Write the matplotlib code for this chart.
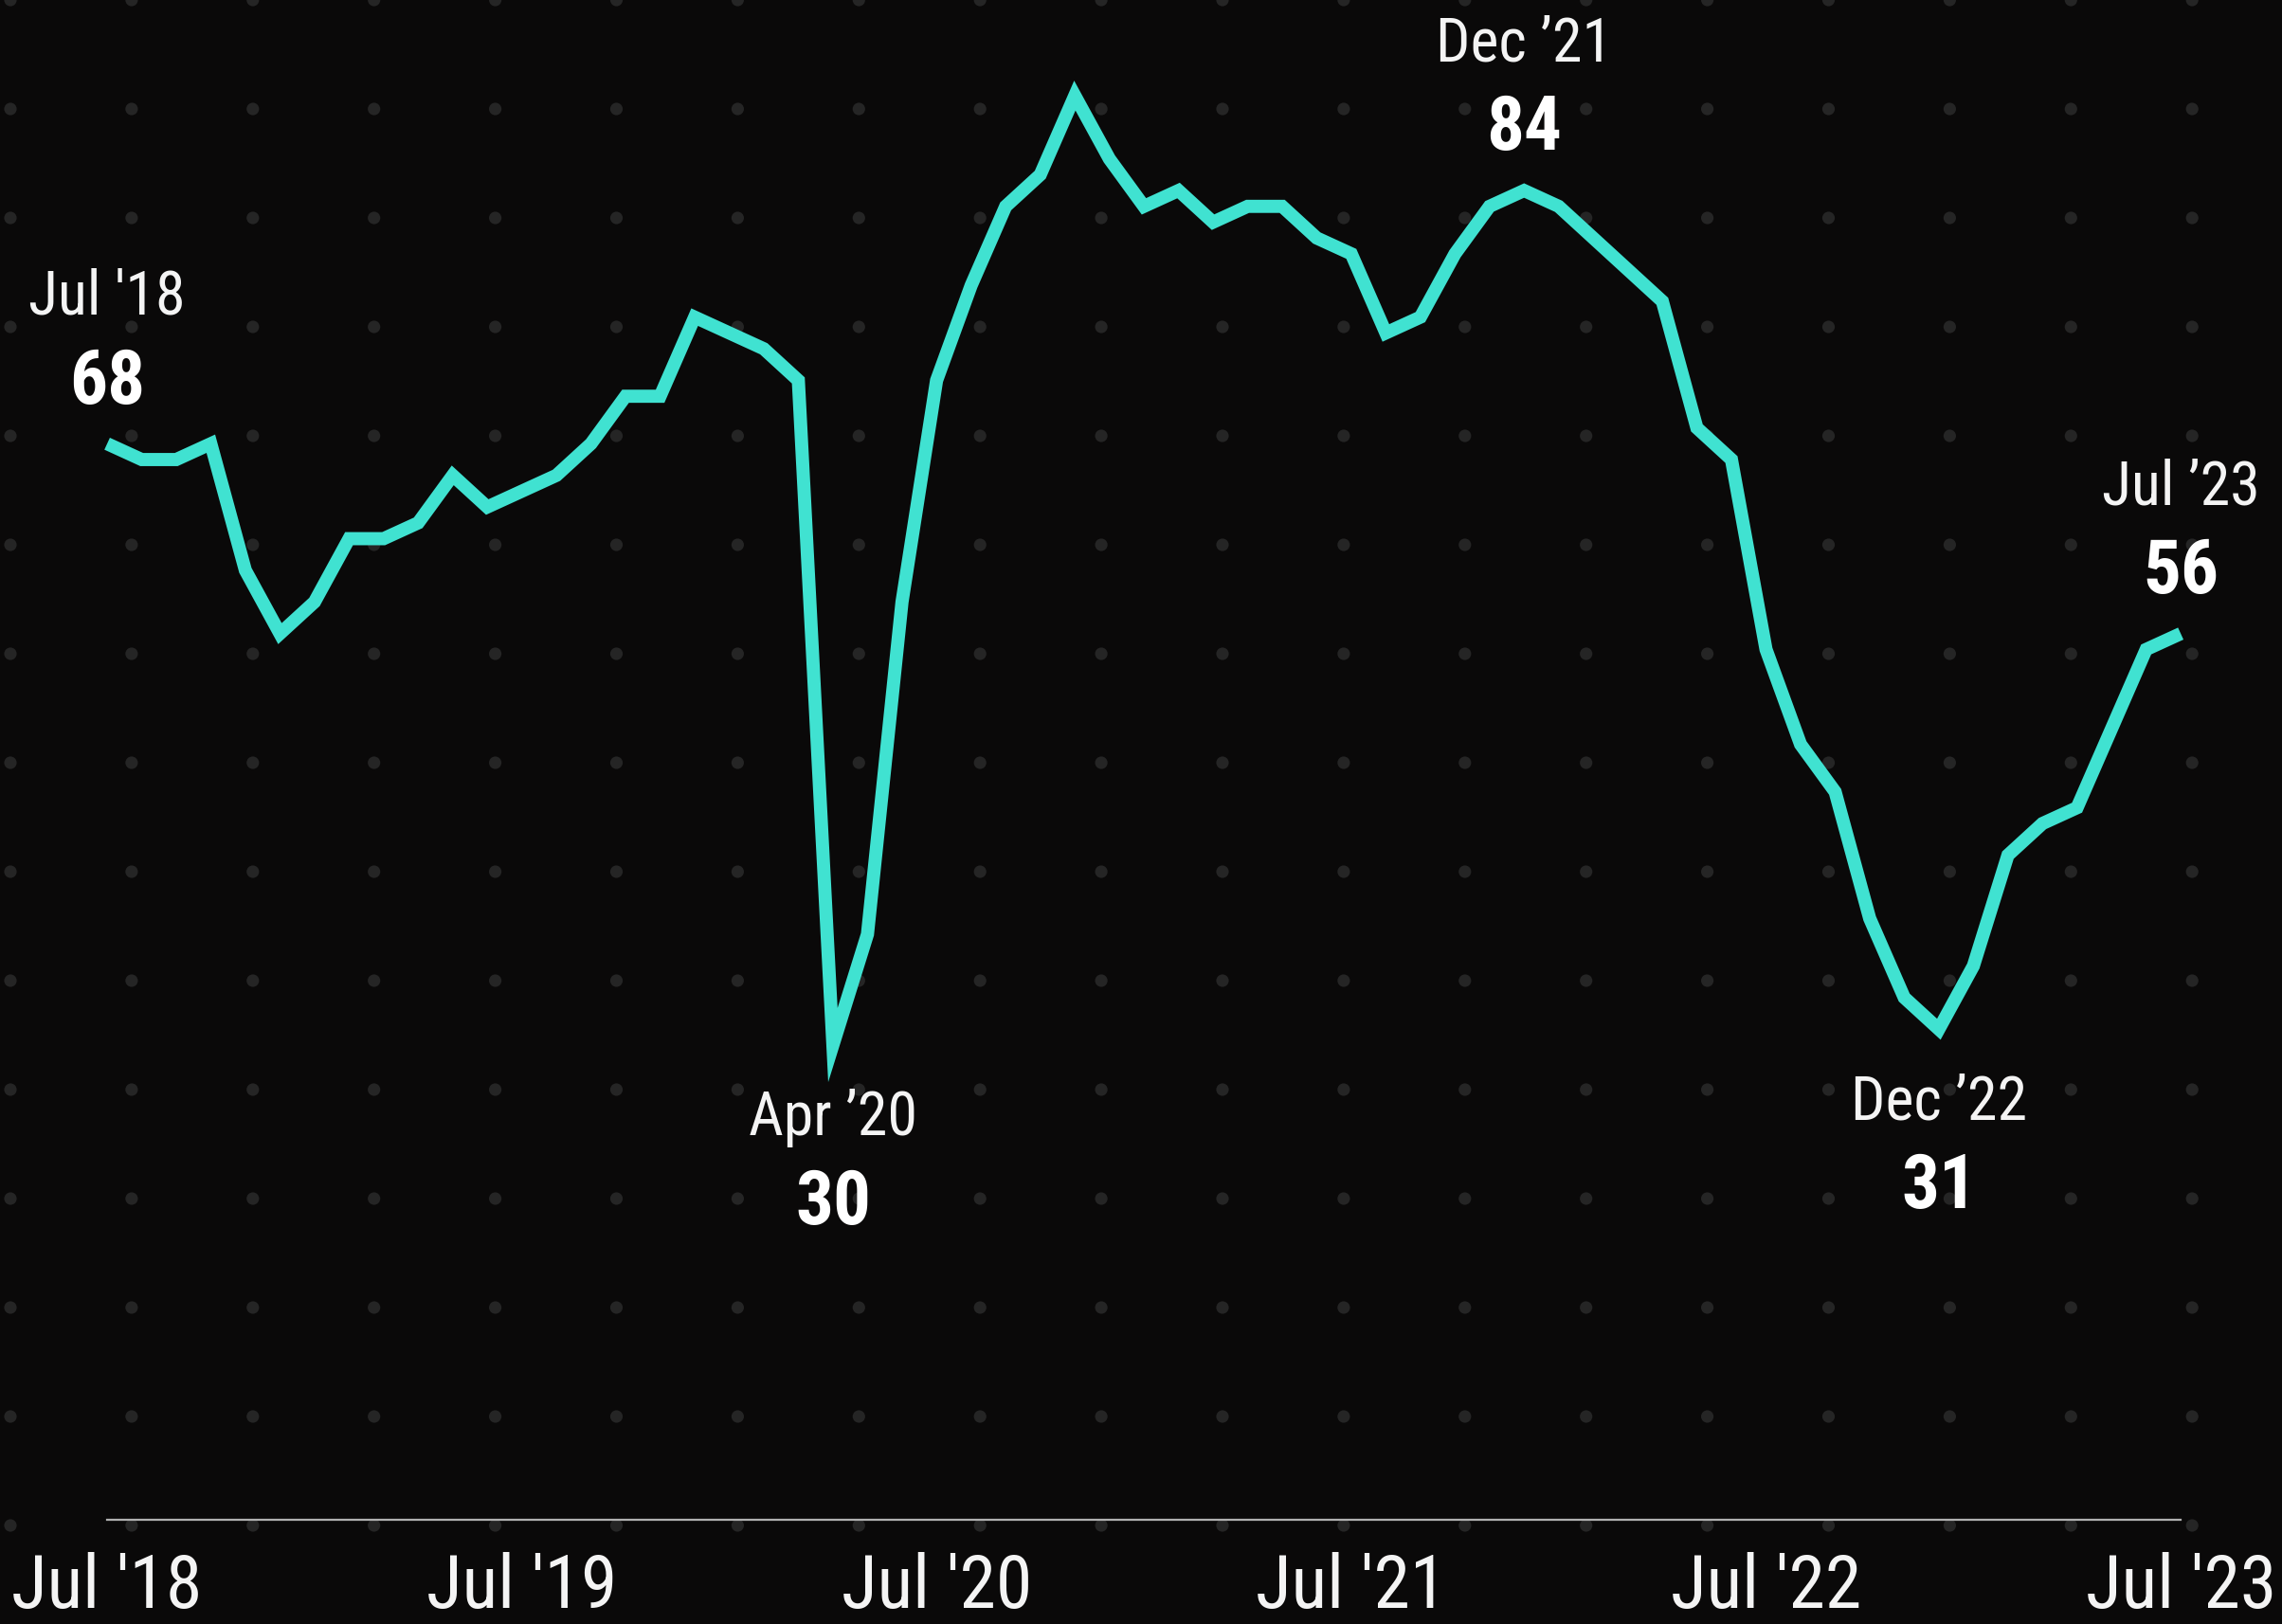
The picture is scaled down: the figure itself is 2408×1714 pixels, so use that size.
import matplotlib
matplotlib.use("Agg")
import matplotlib.pyplot as plt
from matplotlib import font_manager
import numpy as np

# indice mensuel, de juil. 2018 a juil. 2023
valeurs_2018 = [68, 67, 67, 68, 60, 56]
valeurs_2019 = [58, 62, 62, 63, 66, 64, 65, 66, 68, 71, 71, 76]
valeurs_2020 = [75, 74, 72, 30, 37, 58, 72, 78, 83, 85, 90, 86]
valeurs_2021 = [83, 84, 82, 83, 83, 81, 80, 75, 76, 80, 83, 84]
valeurs_2022 = [83, 81, 79, 77, 69, 67, 55, 49, 46, 38, 33, 31]
valeurs_2023 = [35, 42, 44, 45, 50, 55, 56]

valeurs = valeurs_2018 + valeurs_2019 + valeurs_2020 + valeurs_2021 + valeurs_2022 + valeurs_2023
mois = list(range(len(valeurs)))

# graduations de l'axe du temps
graduations = [0, 12, 24, 36, 48, 60]
etiquettes = ["Jul '18", "Jul '19", "Jul '20", "Jul '21", "Jul '22", "Jul '23"]

# points remarquables annotes sur la courbe
notes_mois = [0, 21, 41, 53, 60]
notes_dates = ["Jul '18", "Apr \u201920", "Dec \u201921", "Dec \u201922", "Jul \u201923"]
notes_dessus = [True, False, True, False, True]

FOND = "#0a0909"
TURQUOISE = "#40e2d1"
BLANC = "#f4f4f4"


def choisir_police() -> str:
    # police etroite si disponible, sinon une sans-serif classique
    noms = {f.name for f in font_manager.fontManager.ttflist}
    for nom in ["Liberation Sans Narrow", "Roboto Condensed", "Open Sans Condensed", "Liberation Sans"]:
        if nom in noms:
            return nom
    return "DejaVu Sans"


plt.rcParams["font.family"] = [choisir_police(), "DejaVu Sans"]

fig = plt.figure(figsize=(24.08, 17.15), dpi=100, facecolor=FOND)

# trame de points en arriere-plan (en pixels de la figure)
fond = fig.add_axes([0, 0, 1, 1], zorder=0)
fond.set_facecolor(FOND)
fond.set_xlim(0, 2408)
fond.set_ylim(1715, 0)
fond.axis("off")
gx, gy = np.meshgrid(11 + 127.9 * np.arange(19), 1611 - 115 * np.arange(15))
fond.scatter(gx.ravel(), gy.ravel(), s=90, color="#252525", edgecolors="none")

# courbe principale
ax = fig.add_axes([0, 110 / 1715, 1, 1605 / 1715], zorder=1)
ax.set_facecolor("none")
ax.plot(mois, valeurs, color=TURQUOISE, linewidth=10, solid_joinstyle="miter",
        solid_capstyle="butt")
ax.set_xlim(-3.1, 62.93)
ax.set_ylim(0, 96.1)

for cote in ["top", "left", "right"]:
    ax.spines[cote].set_visible(False)
ax.spines["bottom"].set_bounds(0, 60)
ax.spines["bottom"].set_color("#b0b0b0")
ax.spines["bottom"].set_linewidth(1.6)
ax.set_yticks([])
ax.set_xticks(graduations)
ax.set_xticklabels(etiquettes)
ax.tick_params(axis="x", length=0, pad=24, labelsize=56, labelcolor=BLANC)

# annotations : date puis valeur
for m, date, dessus in zip(notes_mois, notes_dates, notes_dessus):
    v = valeurs[m]
    if dessus:
        decal_val, decal_date = 47, 112
    else:
        decal_val, decal_date = -120, -55
    ax.annotate(str(v), (m, v), xytext=(0, decal_val), textcoords="offset points",
                ha="center", va="center", fontsize=57, fontweight="bold", color="white")
    ax.annotate(date, (m, v), xytext=(0, decal_date), textcoords="offset points",
                ha="center", va="center", fontsize=46, color=BLANC)

fig.savefig("out.png", dpi=100, facecolor=FOND)
